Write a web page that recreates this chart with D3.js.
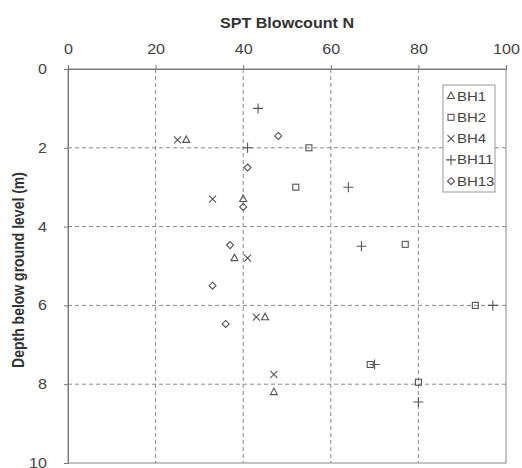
<!DOCTYPE html>
<html><head><meta charset="utf-8">
<script src="https://cdn.jsdelivr.net/npm/d3@7"></script>
<style>body{margin:0;background:#fff;}svg{display:block;font-family:"Liberation Sans",Arial,sans-serif;}</style>
</head><body>
<svg id="c" width="522" height="468"></svg>
<script>
const xTicks = [0, 20, 40, 60, 80, 100];
const yTicks = [0, 2, 4, 6, 8, 10];
const seriesNames = ["BH1", "BH2", "BH4", "BH11", "BH13"];
const BH1 = [[27, 1.8], [40, 3.3], [38, 4.8], [45, 6.3], [47, 8.2]];
const BH2 = [[55, 2.0], [52, 3.0], [77, 4.45], [93, 6.0], [69, 7.5], [80, 7.95]];
const BH4 = [[25, 1.8], [33, 3.3], [41, 4.8], [43, 6.3], [47, 7.75]];
const BH11 = [[43.4, 1.0], [41, 2.0], [64, 3.0], [67, 4.5], [97, 6.0], [70, 7.5], [80, 8.45]];
const BH13 = [[48, 1.7], [41, 2.5], [40, 3.5], [37, 4.47], [33, 5.5], [36, 6.47]];
const shapes = ["triangle", "square", "x", "plus", "diamond"];
const seriesData = [BH1, BH2, BH4, BH11, BH13];

const svg = d3.select("#c");
const L = 68, R = 506, T = 69, B = 463;
const x = d3.scaleLinear().domain([0, 100]).range([L, R]);
const y = d3.scaleLinear().domain([0, 10]).range([T, B]);
const col = "#555";
const SX = 1.15;

// grid
svg.append("g").selectAll("line").data(xTicks.slice(1, -1)).join("line")
  .attr("x1", d => x(d)).attr("x2", d => x(d)).attr("y1", T).attr("y2", B)
  .attr("stroke", "#888").attr("stroke-dasharray", "4,3").attr("stroke-width", 1);
svg.append("g").selectAll("line").data(yTicks.slice(1, -1)).join("line")
  .attr("y1", d => y(d)).attr("y2", d => y(d)).attr("x1", L).attr("x2", R)
  .attr("stroke", "#888").attr("stroke-dasharray", "4,3").attr("stroke-width", 1);

// frame
svg.append("rect").attr("x", L).attr("y", T).attr("width", R - L).attr("height", B - T)
  .attr("fill", "none").attr("stroke", "#888").attr("stroke-width", 1);

// axes
const xa = svg.append("g").attr("transform", `translate(0,${T})`)
  .call(d3.axisTop(x).tickValues(xTicks).tickSize(4).tickPadding(11));
const ya = svg.append("g").attr("transform", `translate(${L},0)`)
  .call(d3.axisLeft(y).tickValues(yTicks).tickSize(4).tickPadding(17));
[xa, ya].forEach(a => {
  a.selectAll("path").attr("stroke", "#777");
  a.selectAll("line").attr("stroke", "#777");
  a.selectAll("text").attr("fill", "#444").style("font-size", "14px").style("font-family", "Liberation Sans, Arial, sans-serif");
});
// horizontal stretch of tick labels (reference appears stretched horizontally)
xa.selectAll(".tick text").attr("transform", `scale(${SX},1)`);
ya.selectAll(".tick text").each(function () {
  const t = d3.select(this);
  const xx = +t.attr("x");
  t.attr("transform", `translate(${xx},0) scale(${SX},1) translate(${-xx},0)`);
});

svg.append("text").attr("transform", `translate(287,28) scale(${SX},1)`).attr("text-anchor", "middle")
  .style("font-size", "14px").style("font-weight", "bold").attr("fill", "#333").text("SPT Blowcount N");
svg.append("text").attr("transform", `translate(24,${(T + B) / 2 + 4}) scale(${SX},1) rotate(-90)`).attr("text-anchor", "middle")
  .style("font-size", "14px").style("font-weight", "bold").attr("fill", "#333").text("Depth below ground level (m)");

function marker(g, shape, cx, cy) {
  if (shape === "triangle") {
    g.append("path").attr("d", `M${cx},${cy - 4}L${cx + 3.5},${cy + 2.5}L${cx - 3.5},${cy + 2.5}Z`);
  } else if (shape === "square") {
    g.append("rect").attr("x", cx - 3).attr("y", cy - 3).attr("width", 6).attr("height", 6);
  } else if (shape === "x") {
    g.append("path").attr("d", `M${cx - 3.5},${cy - 3.5}L${cx + 3.5},${cy + 3.5}M${cx - 3.5},${cy + 3.5}L${cx + 3.5},${cy - 3.5}`);
  } else if (shape === "plus") {
    g.append("path").attr("d", `M${cx - 5},${cy}L${cx + 5},${cy}M${cx},${cy - 5}L${cx},${cy + 5}`);
  } else {
    g.append("path").attr("d", `M${cx},${cy - 3.5}L${cx + 3.5},${cy}L${cx},${cy + 3.5}L${cx - 3.5},${cy}Z`);
  }
}

seriesData.forEach((data, i) => {
  const g = svg.append("g").attr("fill", "none").attr("stroke", col).attr("stroke-width", 1.1);
  data.forEach(d => marker(g, shapes[i], x(d[0]), y(d[1])));
});

// legend
const lg = svg.append("g");
lg.append("rect").attr("x", 443).attr("y", 85).attr("width", 52).attr("height", 107)
  .attr("fill", "#fff").attr("stroke", "#999").attr("stroke-width", 1);
seriesNames.forEach((n, i) => {
  const cy = 96 + i * 21.3;
  const g = lg.append("g").attr("fill", "none").attr("stroke", col).attr("stroke-width", 1.1);
  marker(g, shapes[i], 451, cy);
  lg.append("text").attr("transform", `translate(457,${cy + 4.5}) scale(${SX},1)`)
    .style("font-size", "13px").attr("fill", "#444").text(n);
});
</script>
</body></html>
